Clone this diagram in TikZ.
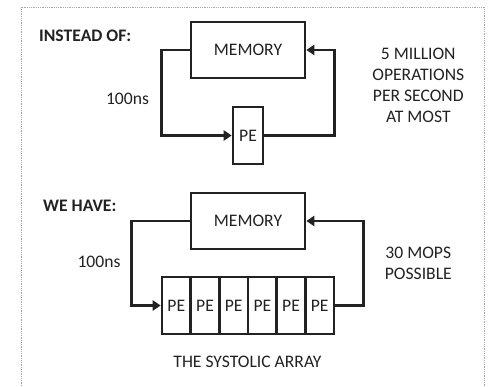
\documentclass[tikz,border=0pt]{standalone}
\usepackage{fontspec}
\setmainfont{Carlito}
\usetikzlibrary{arrows.meta}
\definecolor{ink}{HTML}{222222}
\begin{document}
\begin{tikzpicture}[x=1pt,y=-1pt,
  every node/.style={text=ink,font=\fontsize{17.6}{21}\selectfont,inner sep=0pt},
  box/.style={draw=ink,line width=2.6pt,minimum width=114pt,minimum height=56pt},
  pebox/.style={draw=ink,line width=2.6pt,minimum width=30pt,minimum height=57pt},
  cell/.style={draw=ink,line width=2.6pt,minimum width=28.67pt,minimum height=57pt},
  conn/.style={draw=ink,line width=2.6pt},
  arr/.style={conn,-{Triangle[length=8pt,width=10pt]}}]
\useasboundingbox (0,0) rectangle (492,387);
\draw[gray!70,densely dotted,line width=0.8pt] (21,395) -- (21,7) -- (484,7) -- (484,395);
% top
\node[box] (mem1) at (248,50) {MEMORY};
\node[pebox] (pe1) at (248,135.5) {PE};
\draw[arr] (mem1.west) -- ++(-28,0) |- (pe1.west);
\draw[arr] (pe1.east) -- ++(70,0) |- (mem1.east);
\node[anchor=base west,font=\fontsize{17.6}{21}\selectfont\bfseries] (t1) at (39,41.5) {INSTEAD OF:};
\node[anchor=base] (l1) at (127.5,104.3) {100ns};
\node[anchor=north,align=center] (r1) at (418.3,47.9) {5 MILLION\\OPERATIONS\\PER SECOND\\AT MOST};
% bottom
\node[box] (mem2) at (248,221) {MEMORY};
\foreach \i in {1,...,6}{
  \node[cell] (c\i) at ({162+28.67*(\i-0.5)},305.5) {PE};
}
\draw[arr] (mem2.west) -- ++(-58,0) |- (c1.west);
\draw[arr] (c6.east) -- ++(28,0) |- (mem2.east);
\node[anchor=base west,font=\fontsize{17.6}{21}\selectfont\bfseries] (t2) at (43,211.7) {WE HAVE:};
\node[anchor=base] (l2) at (99,267.7) {100ns};
\node[anchor=north,align=center] (r2) at (418.3,246.9) {30 MOPS\\POSSIBLE};
\node[anchor=base] (cap) at (247.5,367.7) {THE SYSTOLIC ARRAY};
\end{tikzpicture}
\end{document}
